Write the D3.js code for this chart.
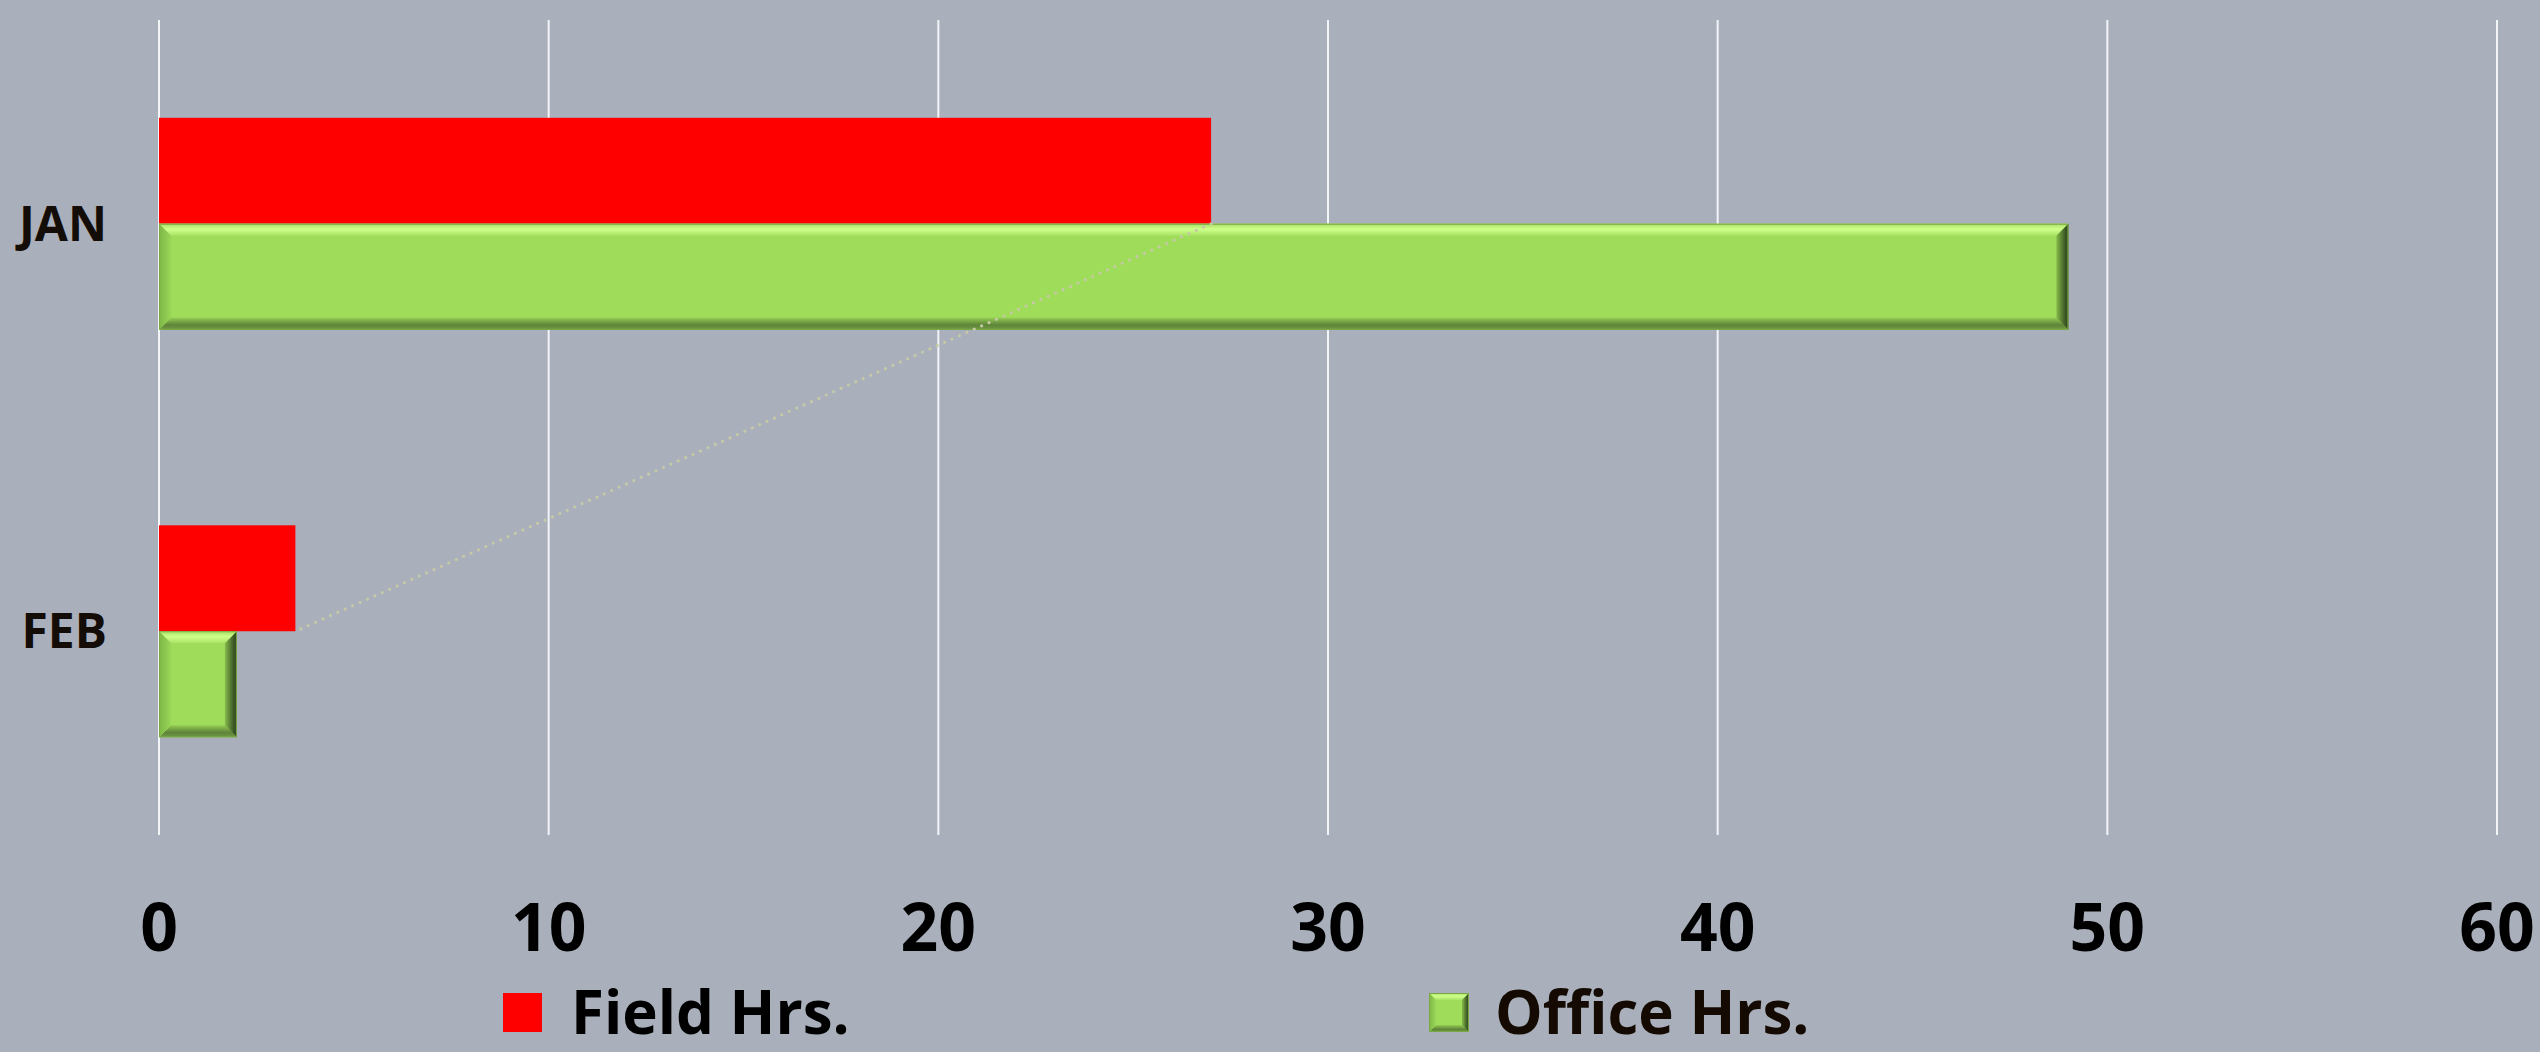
<!DOCTYPE html>
<html>
<head>
<meta charset="utf-8">
<script src="https://cdn.jsdelivr.net/npm/d3@7"></script>
<style>
  html, body { margin: 0; padding: 0; background: #a9b0bb; }
  svg { display: block; }
  text { font-family: 'Open Sans', 'Noto Sans', sans-serif; font-weight: 700; }
</style>
</head>
<body>
<div id="chart"></div>
<script>
const months = ['JAN', 'FEB'];
const seriesNames = ['Field Hrs.', 'Office Hrs.'];
const fieldHrs = [27, 3.5];
const officeHrs = [49, 2];
const xTicks = [0, 10, 20, 30, 40, 50, 60];

const width = 2540, height = 1052;
const plot = { left: 159, right: 2497, top: 20, bottom: 835 };

const svg = d3.select('#chart').append('svg')
  .attr('width', width)
  .attr('height', height);

svg.append('rect')
  .attr('width', width)
  .attr('height', height)
  .attr('fill', '#a9b0bb');

const defs = svg.append('defs');

// gradients for the bevelled office bars
function grad(id, x2, y2, stops) {
  const g = defs.append('linearGradient')
    .attr('id', id)
    .attr('x1', 0).attr('y1', 0)
    .attr('x2', x2).attr('y2', y2);
  stops.forEach(s => g.append('stop').attr('offset', s[0]).attr('stop-color', s[1]));
}
grad('bevTop', 0, 1, [[0, '#a6df62'], [0.45, '#d0ff8c'], [1, '#a8e263']]);
grad('bevBottom', 0, 1, [[0, '#94cc53'], [0.6, '#5f8439'], [1, '#6f9a43']]);
grad('bevLeft', 1, 0, [[0, '#7eb646'], [1, '#98d757']]);
grad('bevRight', 1, 0, [[0, '#86bb4b'], [0.7, '#3f5c27'], [1, '#2c401c']]);

const x = d3.scaleLinear().domain([0, 60]).range([plot.left, plot.right]);

const y = d3.scaleBand()
  .domain(months)
  .range([plot.top, plot.bottom])
  .paddingInner(0.48)
  .paddingOuter(0.24);

const ys = d3.scaleBand()
  .domain(seriesNames)
  .range([0, y.bandwidth()]);

// gridlines
svg.append('g')
  .selectAll('line')
  .data(xTicks)
  .join('line')
  .attr('x1', d => x(d))
  .attr('x2', d => x(d))
  .attr('y1', plot.top)
  .attr('y2', plot.bottom)
  .attr('stroke', '#f2f4f8')
  .attr('stroke-width', 2);

// x axis labels
svg.append('g')
  .selectAll('text')
  .data(xTicks)
  .join('text')
  .attr('x', d => x(d))
  .attr('y', 951)
  .attr('text-anchor', 'middle')
  .attr('font-size', 66)
  .attr('fill', '#000000')
  .text(d => d);

// y axis labels
svg.append('g')
  .selectAll('text')
  .data(months)
  .join('text')
  .attr('x', 107)
  .attr('y', d => y(d) + y.bandwidth() / 2 + 17)
  .attr('text-anchor', 'end')
  .attr('font-size', 48)
  .attr('fill', '#140c06')
  .text(d => d);

const rows = months.map((m, i) => ({ month: m, field: fieldHrs[i], office: officeHrs[i] }));

function bevelBar(g, x0, y0, w, h, b) {
  g.append('rect')
    .attr('x', x0).attr('y', y0)
    .attr('width', w).attr('height', h)
    .attr('fill', '#9edc5a');
  const pts = {
    bevTop: [[x0, y0], [x0 + w, y0], [x0 + w - b, y0 + b], [x0 + b, y0 + b]],
    bevBottom: [[x0, y0 + h], [x0 + w, y0 + h], [x0 + w - b, y0 + h - b], [x0 + b, y0 + h - b]],
    bevLeft: [[x0, y0], [x0 + b, y0 + b], [x0 + b, y0 + h - b], [x0, y0 + h]],
    bevRight: [[x0 + w, y0], [x0 + w - b, y0 + b], [x0 + w - b, y0 + h - b], [x0 + w, y0 + h]],
  };
  Object.keys(pts).forEach(k => {
    g.append('polygon')
      .attr('points', pts[k].map(p => p.join(',')).join(' '))
      .attr('fill', 'url(#' + k + ')');
  });
  g.append('rect')
    .attr('x', x0 + 0.5).attr('y', y0 + 0.5)
    .attr('width', w - 1).attr('height', h - 1)
    .attr('fill', 'none')
    .attr('stroke', '#79a844')
    .attr('stroke-width', 1);
}

// field bars
svg.append('g')
  .selectAll('rect')
  .data(rows)
  .join('rect')
  .attr('x', x(0))
  .attr('y', d => y(d.month) + ys('Field Hrs.'))
  .attr('width', d => x(d.field) - x(0))
  .attr('height', ys.bandwidth())
  .attr('fill', '#ff0000');

// office bars (bevelled)
const officeG = svg.append('g');
rows.forEach(d => {
  bevelBar(officeG.append('g'), x(0), y(d.month) + ys('Office Hrs.'),
    x(d.office) - x(0), ys.bandwidth(), 12);
});

// series line joining the field bar ends
svg.append('path')
  .datum(rows)
  .attr('fill', 'none')
  .attr('stroke', '#c6c9a6')
  .attr('stroke-width', 3)
  .attr('stroke-linecap', 'round')
  .attr('stroke-dasharray', '0.1 8')
  .attr('d', d3.line()
    .x(d => x(d.field))
    .y(d => y(d.month) + ys.bandwidth()));

// legend
const legend = svg.append('g');
legend.append('rect')
  .attr('x', 503).attr('y', 993)
  .attr('width', 39).attr('height', 39)
  .attr('fill', '#ff0000');
legend.append('text')
  .attr('x', 571).attr('y', 1034)
  .attr('font-size', 60)
  .attr('fill', '#000000')
  .text(seriesNames[0]);
bevelBar(legend.append('g'), 1429, 993, 40, 39, 7);
legend.append('text')
  .attr('x', 1495).attr('y', 1034)
  .attr('font-size', 60)
  .attr('fill', '#140a02')
  .text(seriesNames[1]);
</script>
</body>
</html>
